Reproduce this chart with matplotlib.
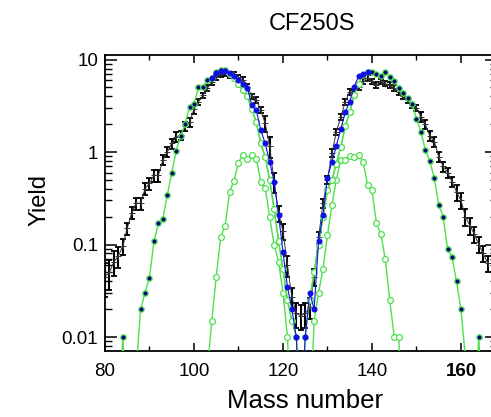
import numpy as np
import matplotlib
matplotlib.use('Agg')
import matplotlib.pyplot as plt
from matplotlib.ticker import LogLocator, FixedLocator, MultipleLocator, NullFormatter

plt.rcParams['font.family'] = ['Liberation Sans', 'DejaVu Sans']

# Experimental yields (with error bars)
exp_mass = np.arange(80, 167)
exp_yield = [0.045, 0.05, 0.065, 0.075, 0.096, 0.15, 0.22, 0.28, 0.28, 0.40,
             0.46, 0.56, 0.56, 0.82, 1.0, 1.24, 1.46, 1.52, 1.9, 2.1,
             2.9, 3.5, 4.1, 4.9, 5.7, 6.4, 6.9, 7.2, 6.8, 6.9,
             6.4, 6.0, 5.1, 4.0, 3.65, 2.85, 2.04, 1.15, 0.48, 0.22,
             0.14, 0.06, 0.027, 0.018, 0.017, 0.018, 0.021, 0.045, 0.12, 0.28,
             0.5, 0.97, 1.66, 2.4, 3.5, 4.5, 4.4, 5.1, 5.9, 6.3,
             5.8, 5.3, 5.8, 5.5, 5.3, 4.9, 4.5, 4.0, 3.65, 3.2,
             3.0, 2.4, 2.0, 1.5, 1.3, 0.89, 0.7, 0.6, 0.48, 0.37,
             0.3, 0.2, 0.16, 0.13, 0.10, 0.08, 0.063]
exp_relerr = [0.4, 0.35, 0.3, 0.25, 0.2,
              0.15, 0.15, 0.15, 0.15, 0.15, 0.15, 0.15, 0.15,
              0.12, 0.12, 0.12, 0.12, 0.12, 0.12, 0.12, 0.12,
              0.07, 0.07, 0.07, 0.07, 0.07, 0.07, 0.07, 0.07, 0.07, 0.07, 0.07, 0.07, 0.07, 0.07, 0.07,
              0.2, 0.25, 0.25, 0.2, 0.2,
              0.25, 0.25, 0.3, 0.3, 0.3, 0.25, 0.2,
              0.15, 0.12, 0.1, 0.1, 0.08, 0.08, 0.07, 0.07,
              0.07, 0.07, 0.07, 0.07, 0.07, 0.07, 0.07, 0.07, 0.07, 0.07, 0.07, 0.07, 0.07, 0.07, 0.07,
              0.12, 0.12, 0.12, 0.12, 0.12, 0.12, 0.12, 0.12,
              0.2, 0.2, 0.2, 0.2, 0.2, 0.2, 0.2, 0.2]

# Model (green line, filled markers)
model_mass = np.arange(83, 166)
model_yield = [0.001, 0.01, 0.001, 0.001, 0.0045, 0.02, 0.030,
               0.044, 0.108, 0.17, 0.19, 0.34, 0.60, 1.03, 1.5, 2.0, 3.1,
               3.3, 5.0, 5.0, 6.0, 6.3, 7.4, 7.8, 7.7, 7.0, 6.3,
               5.5, 4.7, 4.0, 2.9, 2.1, 1.25, 0.89, 0.5, 0.245, 0.11,
               0.055, 0.025, 0.015, 0.01, 0.001, 0.01, 0.025, 0.05, 0.10, 0.2,
               0.39, 0.5, 0.75, 1.14, 1.9, 2.7, 4.1, 5.5, 6.8, 7.3,
               7.3, 7.0, 6.7, 7.4, 6.4, 5.9, 4.9, 4.3, 3.8, 3.3,
               2.3, 1.66, 1.05, 0.80, 0.52, 0.27, 0.20, 0.089, 0.074, 0.040,
               0.020, 0.006, 0.001, 0.001, 0.01, 0.001]

# Inner component (green open circles, large)
wide_mass = np.arange(108, 138)
wide_yield = [7.0, 6.3, 5.5, 4.7, 4.0, 2.9, 2.1, 1.25, 0.89, 0.5,
              0.245, 0.11, 0.055, 0.025, 0.015, np.nan, np.nan, np.nan, 0.025, 0.05,
              0.10, 0.2, 0.39, 0.5, 0.75, 1.14, 1.9, 2.7, 4.1, 5.5]

# Small humps (green open circles)
hump_mass = np.arange(103, 148)
hump_yield = [0.0043, 0.015, 0.045, 0.12, 0.16, 0.37, 0.49,
              0.77, 0.94, 0.85, 0.94, 0.85, 0.48, 0.41, 0.20, 0.10, 0.065,
              0.03, 0.01, 0.001, np.nan, np.nan, np.nan, 0.001, 0.015, 0.030, 0.055,
              0.126, 0.27, 0.5, 0.83, 0.83, 0.91, 0.88, 0.93, 0.79, 0.44,
              0.39, 0.17, 0.13, 0.069, 0.025, 0.01, 0.01, 0.001]

# Blue series
blue_mass = np.arange(104, 140)
blue_yield = [6.3, 7.2, 7.5, 7.6, 7.1, 6.6,
              6.0, 5.5, 4.9, 3.2, 2.85, 1.73, 1.24, 0.79, 0.48, 0.21,
              0.083, 0.035, 0.020, 0.010, 0.001, 0.010, 0.030, 0.020, 0.11, 0.21,
              0.53, 0.79, 1.17, 1.78, 2.7, 3.5, 5.1, 6.6, 7.0, 7.3]

xticks = [80, 100, 120, 140, 160]
xticklabels = ['80', '100', '120', '140', '160']
yticks = [0.01, 0.1, 1, 10]
yticklabels = ['0.01', '0.1', '1', '10']

W, H = 491, 417
fig = plt.figure(figsize=(W / 100, H / 100), dpi=100)
ax = fig.add_axes([105 / W, 66 / H, 392 / W, 296 / H])

green = '#4ee04e'
ey = np.array(exp_yield)
ax.errorbar(exp_mass, ey, yerr=np.array(exp_relerr) * ey, fmt='none',
            ecolor='black', elinewidth=1.5, capsize=2.2, capthick=1.3, zorder=2)
ax.plot(exp_mass, ey, color='#333333', lw=0.7, marker='+', ms=4, mew=0.7, zorder=2.1)

ax.plot(hump_mass, hump_yield, color=green, lw=1.0, marker='o', ms=4.2,
        mfc='white', mec=green, mew=0.9, zorder=3)
ax.plot(model_mass, model_yield, color=green, lw=1.0, marker='o', ms=3.8,
        mfc='#000080', mec=green, mew=0.9, zorder=3.2)
ax.plot(wide_mass, wide_yield, color=green, lw=1.0, marker='o', ms=4.2,
        mfc='white', mec=green, mew=0.9, zorder=3.3)
ax.plot(blue_mass, blue_yield, color='#1010e6', lw=0.8, marker='o', ms=3.3,
        mfc='#1010e6', mec='#1010e6', zorder=3.5)

ax.set_yscale('log')
ax.set_xlim(80, 168.1)
ax.set_ylim(0.00706, 11.2)

ax.xaxis.set_major_locator(FixedLocator(xticks))
ax.set_xticklabels(xticklabels)
ax.xaxis.set_minor_locator(MultipleLocator(10))
ax.yaxis.set_major_locator(FixedLocator(yticks))
ax.set_yticklabels(yticklabels)
ax.yaxis.set_minor_locator(LogLocator(base=10, subs=np.arange(2, 10), numticks=20))
ax.yaxis.set_minor_formatter(NullFormatter())

ax.tick_params(which='both', direction='in', top=True, right=True, labelsize=13.5)
ax.tick_params(axis='y', which='major', length=8.6, width=1.1, pad=5)
ax.tick_params(axis='y', which='minor', length=5, width=1.0)
ax.tick_params(axis='x', which='major', length=5.8, width=1.1, pad=8.5)
ax.tick_params(axis='x', which='minor', length=3.6, width=1.0)
for s in ax.spines.values():
    s.set_linewidth(1.3)

ax.get_xticklabels()[-1].set_fontweight('bold')

ax.set_xlabel('Mass number', fontsize=18.5)
ax.xaxis.set_label_coords(0.51, -0.128)
ax.set_ylabel('Yield', fontsize=17)
ax.yaxis.set_label_coords(-0.14, 0.51)

fig.text(311.5 / W, 1 - 29.5 / H, 'CF250S', ha='center', va='baseline', fontsize=17)

fig.savefig('out.png', dpi=100)
